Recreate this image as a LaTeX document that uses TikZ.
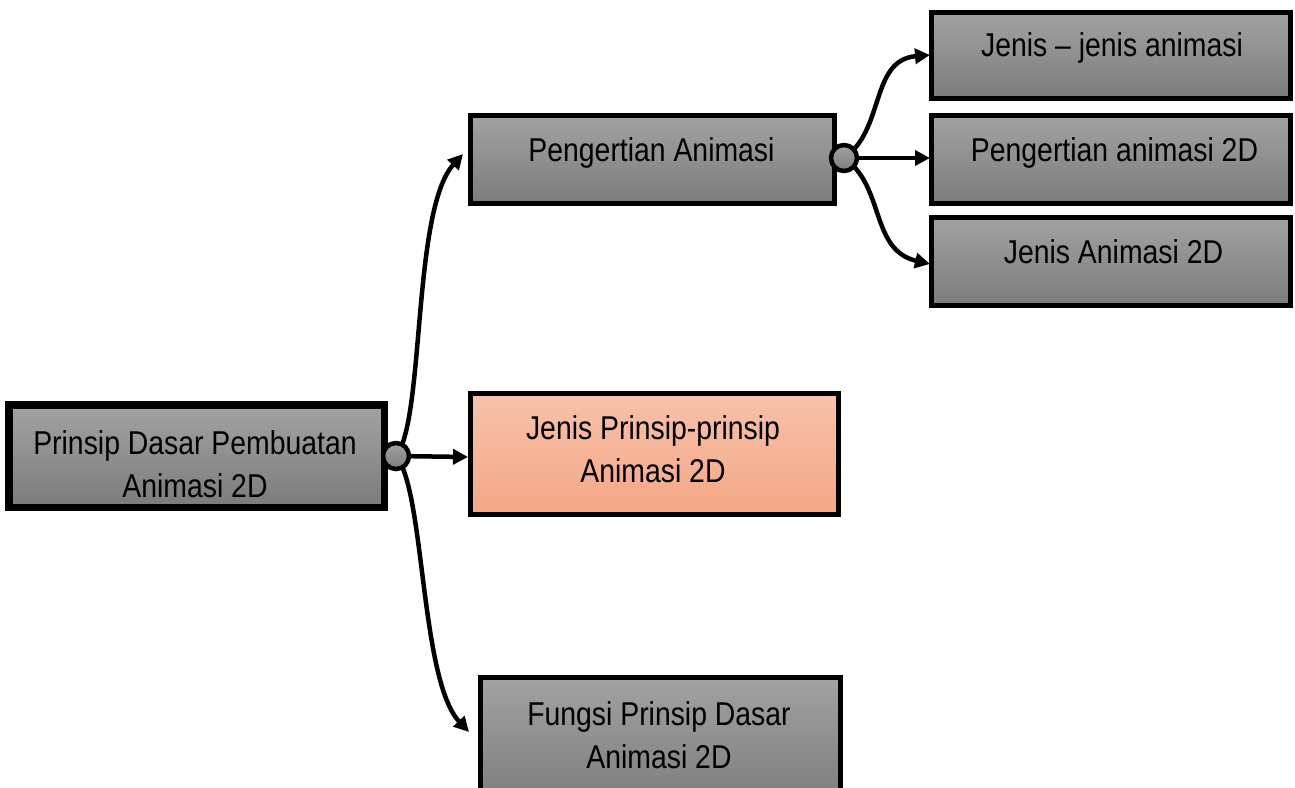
\documentclass[tikz,border=0pt]{standalone}
\usepackage{fontspec}
\setmainfont{Liberation Sans}
\usetikzlibrary{arrows.meta}
\definecolor{gtop}{HTML}{A2A2A2}
\definecolor{gbot}{HTML}{7C7C7C}
\definecolor{stop}{HTML}{F8C2AA}
\definecolor{sbot}{HTML}{F4A785}
\newcommand\boxtext[1]{\scalebox{0.86}[1]{\begin{tabular}{@{}c@{}}#1\end{tabular}}}
\tikzset{
  graybox/.style={draw=black, line width=5pt, top color=gtop, bottom color=gbot, inner sep=0pt},
  salmonbox/.style={draw=black, line width=5pt, top color=stop, bottom color=sbot, inner sep=0pt},
  lbl/.style={font=\fontsize{33}{43}\selectfont, inner sep=0pt, text=black},
  hub/.style={circle, draw=black, line width=4.5pt, top color=gtop, bottom color=gbot, minimum size=26pt, inner sep=0pt},
  conn/.style={line width=4.5pt, -{Triangle[length=15pt,width=15pt]}}
}
\begin{document}
\begin{tikzpicture}[x=1pt,y=-1pt]
\useasboundingbox[fill=white] (0,0) rectangle (1295,787);
% boxes
\node[graybox, minimum width=373pt, minimum height=100pt] (main) at (196.5,456) {};
\node[graybox, minimum width=364pt, minimum height=88pt] (pa) at (652,159) {};
\node[graybox, minimum width=359pt, minimum height=86pt] (jj) at (1110.5,55) {};
\node[graybox, minimum width=359pt, minimum height=88pt] (pa2) at (1110.5,159) {};
\node[graybox, minimum width=359pt, minimum height=88pt] (ja) at (1110.5,261) {};
\node[salmonbox, minimum width=368pt, minimum height=121pt] (jp) at (654,453.5) {};
\node[graybox, minimum width=360pt, minimum height=130pt] (fp) at (660,742) {};
% labels
\node[lbl] (tmain) at (195,467) {\boxtext{Prinsip Dasar Pembuatan\\Animasi 2D}};
\draw[line width=5pt] (main.north west) rectangle (main.south east);
\node[lbl] (tpa) at (651.5,153) {\boxtext{Pengertian Animasi}};
\node[lbl] (tjj) at (1112,47.5) {\boxtext{Jenis -- jenis animasi}};
\node[lbl] (tpa2) at (1114.5,153) {\boxtext{Pengertian animasi 2D}};
\node[lbl] (tja) at (1113.5,254.7) {\boxtext{Jenis Animasi 2D}};
\node[lbl] (tjp) at (653,452) {\boxtext{Jenis Prinsip-prinsip\\Animasi 2D}};
\node[lbl] (tfp) at (659,738) {\boxtext{Fungsi Prinsip Dasar\\Animasi 2D}};
% hubs
\coordinate (h1c) at (396,456);
\coordinate (h2c) at (844,158);
\coordinate (a1) at (463,154);
\coordinate (a2) at (468,457);
\coordinate (a3) at (469,732);
\coordinate (b1) at (930,55);
\coordinate (b2) at (930,158);
\coordinate (b3) at (930,264);
\draw[conn] (h1c) .. controls (425,420) and (412,210) .. (a1);
\draw[conn] (h1c) -- (a2);
\draw[conn] (h1c) .. controls (425,490) and (420,680) .. (a3);
\draw[conn] (h2c) .. controls (885,130) and (870,60) .. (b1);
\draw[conn] (h2c) -- (b2);
\draw[conn] (h2c) .. controls (885,186) and (870,250) .. (b3);
\node[hub] (h1) at (h1c) {};
\node[hub] (h2) at (h2c) {};
\end{tikzpicture}
\end{document}
